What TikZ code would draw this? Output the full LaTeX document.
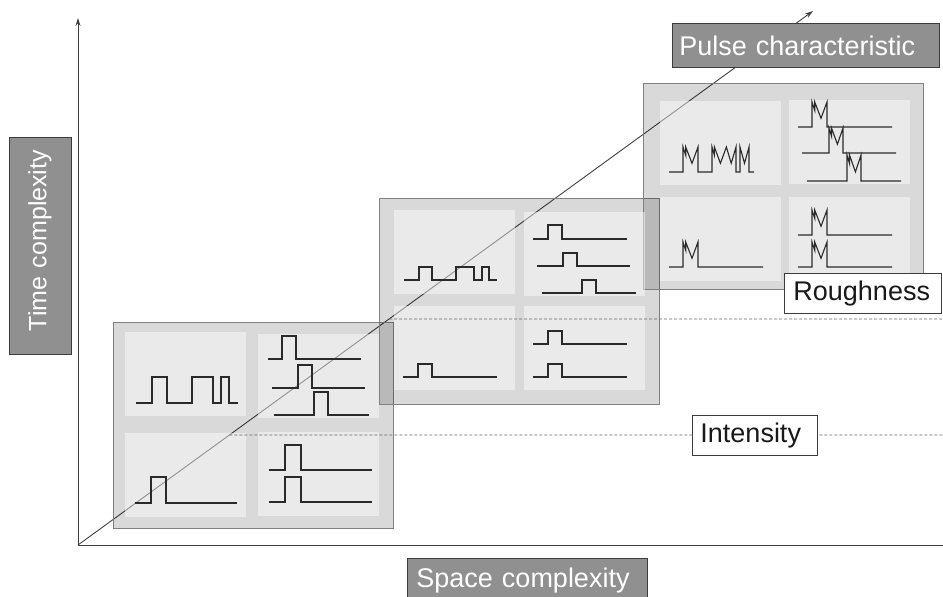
\documentclass[tikz,border=0pt]{standalone}
\usepackage{fontspec}
\setmainfont{Liberation Sans}
\usetikzlibrary{arrows.meta,calc}

\definecolor{labelfill}{HTML}{909090}
\definecolor{labeledge}{HTML}{3C3C3C}
\definecolor{inkline}{HTML}{2A2A2A}

% rough pulse: start, rise, fall, end, baseline, top
\newcommand\roughpulse[6]{%
  \draw[pulse] (#1,#5) -- (#2,#5) -- (#2,#6)
    -- ({#2+0.18*(#3-#2)},{#5-0.67*(#5-#6)}) -- ({#2+0.18*(#3-#2)},#6)
    -- ({#2+0.6*(#3-#2)},{#5-0.35*(#5-#6)}) -- (#3,#6) -- (#3,#5) -- (#4,#5);}

\begin{document}
\begin{tikzpicture}[x=1pt,y=-1pt,
  axis/.style={draw=black!75,line width=0.9pt},
  tip/.style={-{Stealth[length=8pt,width=5pt]}},
  guide/.style={draw=black!60,line width=0.7pt,dash pattern=on 3pt off 2pt},
  panel/.style={draw=black!50,line width=0.9pt,fill=black,fill opacity=0.15,
    minimum width=280pt,minimum height=206pt,inner sep=0pt,anchor=north west},
  cell/.style={fill=white,fill opacity=0.45,minimum width=121pt,
    minimum height=84pt,inner sep=0pt,anchor=north west},
  pulse/.style={draw=inkline,line width=1.1pt},
  darklabel/.style={draw=labeledge,line width=0.9pt,fill=labelfill,text=white,
    font=\fontsize{27}{30}\selectfont,inner ysep=0pt,align=left},
  lightlabel/.style={draw=labeledge,line width=0.9pt,fill=white,text=black!90,
    font=\fontsize{27}{30}\selectfont,inner ysep=0pt,align=left}]

\path[use as bounding box,clip] (0,0) rectangle (943,597);

% axes and the diagonal
\coordinate (O) at (78,545);
\coordinate (Ytip) at (78,18);
\coordinate (Xend) at (943,545);
\coordinate (Dtip) at (813,11);
\draw[axis,tip] (O) -- (Ytip);
\draw[axis] (O) -- (Xend);
\draw[axis,tip] (O) -- (Dtip);

% panels
\coordinate (o1) at (113,322);
\coordinate (o2) at (379,198);
\coordinate (o3) at (643,83);
\node[panel] (p1) at (o1) {};
\node[panel] (p2) at (o2) {};
\node[panel] (p3) at (o3) {};

% cells
\node[cell] (p1a) at (125,332) {};
\node[cell] (p1b) at (258,334) {};
\node[cell] (p1c) at (125,433) {};
\node[cell] (p1d) at (258,432) {};
\node[cell] (p2a) at (394,210) {};
\node[cell] (p2b) at (524,212) {};
\node[cell] (p2c) at (394,306) {};
\node[cell] (p2d) at (524,306) {};
\node[cell] (p3a) at (660,101) {};
\node[cell] (p3b) at (789,100) {};
\node[cell] (p3c) at (660,197) {};
\node[cell] (p3d) at (789,197) {};

% pulses, first panel
\begin{scope}[shift={(o1)}]
  \draw[pulse] (23,81) -| (39,55) -| (54,81) -| (79,55) -| (100,81) -| (108,55) -| (116,81) -- (125,81);
  \draw[pulse] (155,37) -| (169,14) -| (183,37) -- (248,37);
  \draw[pulse] (159,66) -| (185,43) -| (199,66) -- (252,66);
  \draw[pulse] (161,93) -| (201,70) -| (215,93) -- (256,93);
  \draw[pulse] (22,181) -| (38,155) -| (53,181) -- (124,181);
  \draw[pulse] (156,148) -| (172,123) -| (188,148) -- (259,148);
  \draw[pulse] (156,180) -| (172,155) -| (188,180) -- (259,180);
\end{scope}

% pulses, second panel
\begin{scope}[shift={(o2)}]
  \draw[pulse] (25,82) -| (40,69) -| (53,82) -| (77,69) -| (95,82) -| (103,69) -| (110,82) -- (118,82);
  \draw[pulse] (154,41) -| (169,27) -| (183,41) -- (248,41);
  \draw[pulse] (158,68) -| (184,55) -| (198,68) -- (251,68);
  \draw[pulse] (163,95) -| (203,82) -| (217,95) -- (257,95);
  \draw[pulse] (24,179) -| (39,166) -| (53,179) -- (118,179);
  \draw[pulse] (154,146) -| (169,133) -| (183,146) -- (248,146);
  \draw[pulse] (154,179) -| (169,166) -| (183,179) -- (248,179);
\end{scope}

% pulses, third panel
\begin{scope}[shift={(o3)}]
  \draw[pulse] (26,89) -- (40,89) -- (40,64) -- (42.7,72.3) -- (42.7,64) -- (49,80.3) -- (55,64) -- (55,89)
    -- (69,89) -- (69,64) -- (71.4,72.3) -- (71.4,64) -- (77.4,80.3) -- (83.4,64) -- (88.2,80.3) -- (93,64) -- (93,89)
    -- (97,89) -- (97,64) -- (101.5,80.3) -- (106,64) -- (106,89) -- (111,89);
  \roughpulse{155}{169}{184}{249}{44}{19}
  \roughpulse{159}{186}{200}{253}{70}{45}
  \roughpulse{164}{204}{218}{258}{98}{72}
  \roughpulse{26}{40}{55}{120}{184}{159}
  \roughpulse{155}{169}{184}{249}{152}{127}
  \roughpulse{155}{169}{184}{249}{184}{159}
\end{scope}

% level guides starting on the diagonal
\coordinate (I0) at ($(O)!{110/534}!(Dtip)$);
\coordinate (Iend) at (943,435);
\coordinate (R0) at ($(O)!{226/534}!(Dtip)$);
\coordinate (Rend) at (943,319);
\draw[guide] (I0) -- (Iend);
\draw[guide] (R0) -- (Rend);

% labels
\node[darklabel,anchor=north west,text width=253pt,inner xsep=7pt,minimum height=44pt] (pc) at (672,23) {Pulse characteristic};
\node[darklabel,anchor=north west,text width=222pt,inner xsep=9pt,minimum height=44pt] (sc) at (407,558) {Space complexity};
\node[darklabel,rotate=90,align=right,text width=191pt,inner xsep=13pt,minimum height=62pt,font=\fontsize{25}{30}\selectfont] (tc) at (40,245.5) {Time complexity};
\node[lightlabel,anchor=north west,text width=109pt,inner xsep=8pt,minimum height=40pt] (in) at (692,415) {Intensity};
\node[lightlabel,anchor=north west,text width=139pt,inner xsep=9pt,minimum height=40pt] (ro) at (784,273) {Roughness};
\end{tikzpicture}
\end{document}
